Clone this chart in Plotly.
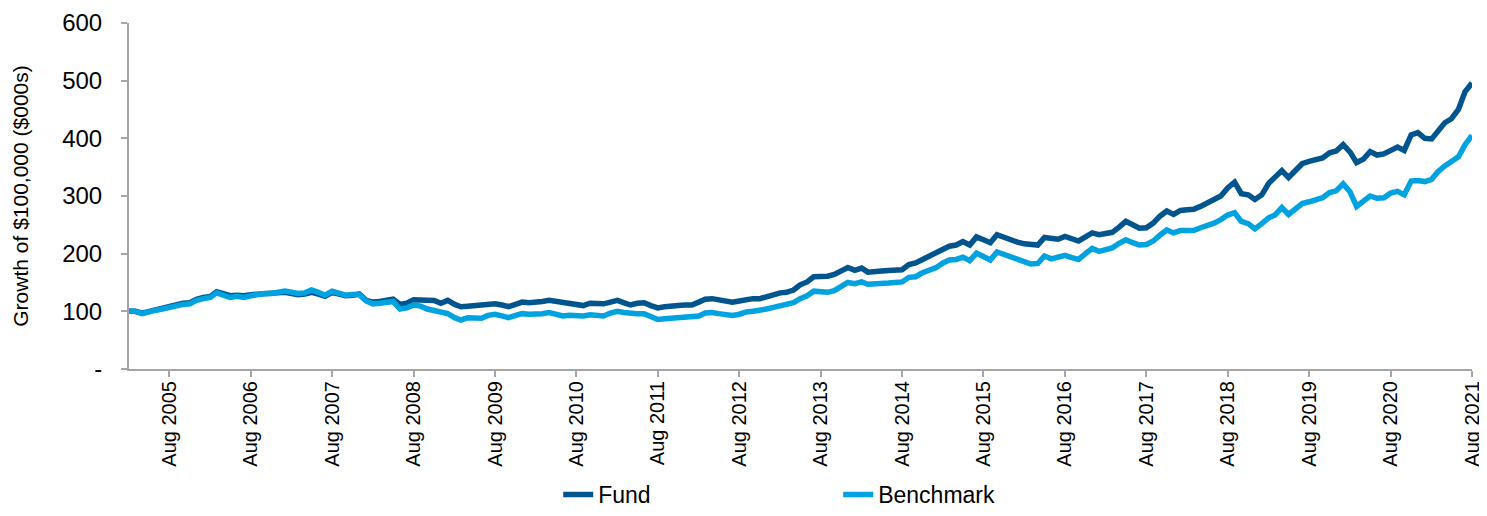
import pandas as pd
import plotly.graph_objects as go

# Monthly observations, Feb 2005 .. Aug 2021
months = pd.date_range("2005-02-01", "2021-08-01", freq="MS")

fund = [
    100, 100, 97, 100, 102, 104, 108, 112, 114, 115,
    121, 124, 126, 134, 130, 127, 128, 127, 129, 130,
    131, 131, 132, 133, 131, 129, 130, 133, 130, 126,
    133, 130, 127, 128, 130, 119, 116, 117, 119, 121,
    112, 114, 120, 120, 121, 119, 114, 119, 112, 108,
    109, 110, 110, 112, 113, 111, 108, 112, 116, 115,
    115, 117, 119, 117, 114, 113, 111, 110, 114, 113,
    113, 116, 119, 115, 111, 114, 115, 110, 106, 108,
    110, 110, 111, 111, 116, 121, 122, 120, 118, 116,
    118, 121, 122, 122, 126, 129, 132, 133, 137, 146,
    151, 160, 160, 161, 164, 170, 176, 171, 175, 168,
    168, 170, 171, 172, 172, 181, 184, 190, 196, 203,
    210, 213, 215, 221, 215, 229, 224, 219, 233, 228,
    223, 220, 217, 215, 215, 228, 226, 225, 230, 225,
    222, 229, 236, 233, 234, 237, 246, 256, 250, 244,
    245, 253, 265, 274, 268, 275, 276, 277, 282, 288,
    293, 300, 314, 324, 304, 302, 294, 302, 322, 333,
    344, 332, 346, 356, 360, 364, 366, 375, 378, 389,
    376, 358, 364, 377, 371, 373, 380, 385, 379, 406,
    410, 400, 399, 413, 427, 434, 450, 481, 496,
]

benchmark = [
    100, 100, 96, 100, 102, 104, 107, 110, 112, 113,
    119, 122, 124, 132, 128, 124, 126, 124, 127, 130,
    131, 131, 133, 135, 133, 131, 132, 137, 133, 128,
    135, 131, 128, 129, 129, 118, 113, 114, 115, 117,
    104, 106, 111, 109, 104, 101, 97, 96, 89, 85,
    89, 88, 88, 93, 95, 92, 89, 93, 96, 95,
    95, 96, 98, 96, 92, 93, 92, 92, 94, 93,
    92, 97, 100, 98, 96, 96, 96, 91, 86, 87,
    88, 88, 89, 89, 92, 97, 98, 96, 94, 93,
    95, 99, 100, 101, 104, 107, 110, 111, 115, 122,
    127, 135, 134, 133, 136, 143, 150, 148, 151, 147,
    147, 149, 149, 150, 151, 159, 160, 167, 172, 176,
    184, 189, 190, 194, 188, 201, 195, 189, 203, 199,
    196, 191, 186, 182, 183, 196, 191, 193, 197, 193,
    190, 200, 209, 204, 206, 210, 218, 224, 219, 215,
    216, 222, 232, 241, 236, 240, 240, 240, 245, 248,
    253, 259, 267, 271, 256, 252, 243, 252, 262, 267,
    280, 268, 278, 287, 290, 293, 297, 306, 309, 321,
    307, 282, 292, 300, 296, 297, 305, 308, 302, 326,
    327, 325, 329, 342, 352, 360, 368, 389, 405,
]

x_tick_vals = [f"{y}-08-01" for y in range(2005, 2022)]
x_tick_text = [f"Aug {y}" for y in range(2005, 2022)]
y_tick_vals = [0, 100, 200, 300, 400, 500, 600]
y_tick_text = ["-", "100", "200", "300", "400", "500", "600"]

FUND_COLOR = "#00558F"
BENCH_COLOR = "#00A3E0"
AXIS_COLOR = "#A6A6A6"
FONT = "Liberation Sans, Arial, sans-serif"

fig = go.Figure()
fig.add_trace(go.Scatter(x=months, y=fund, mode="lines", name="Fund",
                         line=dict(color=FUND_COLOR, width=5.5)))
fig.add_trace(go.Scatter(x=months, y=benchmark, mode="lines", name="Benchmark",
                         line=dict(color=BENCH_COLOR, width=5.5)))

# page body adds an 8px offset, so the figure is 8px smaller in each direction
fig.update_layout(
    width=1479, height=508,
    margin=dict(l=121, r=15, t=15, b=147, autoexpand=False),
    paper_bgcolor="white", plot_bgcolor="white",
    font=dict(family=FONT, size=21, color="#000000"),
    showlegend=True,
    legend=dict(orientation="h", xref="container", yref="container",
                x=0.372, xanchor="left", y=0.0, yanchor="bottom",
                font=dict(size=23), entrywidth=235, entrywidthmode="pixels",
                traceorder="normal"),
    xaxis=dict(
        range=["2005-02-01", "2021-08-01"],
        tickvals=x_tick_vals, ticktext=x_tick_text, tickangle=-90,
        showgrid=False, zeroline=False, automargin=False,
        showline=True, linecolor=AXIS_COLOR, linewidth=2,
        ticks="outside", ticklen=6, tickwidth=2, tickcolor=AXIS_COLOR,
        tickfont=dict(size=20), ticklabelstandoff=-4,
    ),
    yaxis=dict(
        range=[0, 600],
        tickvals=y_tick_vals, ticktext=y_tick_text,
        showgrid=False, zeroline=False, automargin=False,
        showline=True, linecolor=AXIS_COLOR, linewidth=2,
        ticks="outside", ticklen=6, tickwidth=2, tickcolor=AXIS_COLOR,
        tickfont=dict(size=24), ticklabelstandoff=14,
        title=dict(text="Growth of $100,000 ($000s)", font=dict(size=21), standoff=28),
    ),
)

fig.write_html("out.html")
